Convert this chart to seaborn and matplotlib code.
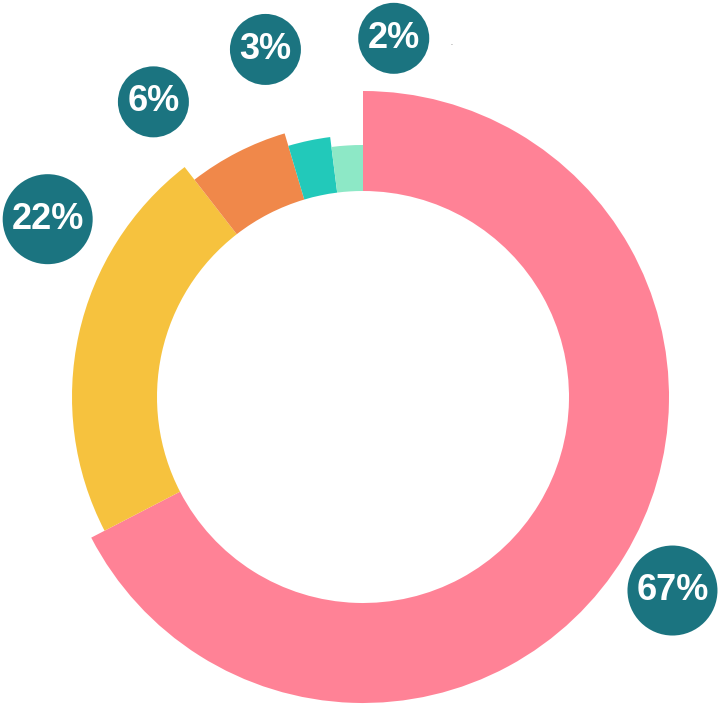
import numpy as np
import matplotlib
matplotlib.use("Agg")
import matplotlib.pyplot as plt
from matplotlib.patches import Wedge, Circle
import seaborn as sns

# données
categories = ["A", "B", "C", "D", "E"]
values = [67.4, 22.1, 5.9, 2.6, 2.0]
labels = ["67%", "22%", "6%", "3%", "2%"]

# style
colors = ["#FF8296", "#F6C23E", "#F0884A", "#22C9BA", "#8DE8C6"]
outer_r = [306, 291, 275, 262, 252]
inner_r = 206
label_shift = [-0.7, -17.0, 8.2, 3.8, -8.5]   # degrés, pour éviter les chevauchements
label_dist = [365, 362, 362, 361, 360]
badge_color = "#1B7480"

sns.set_theme(style="white")
plt.rcParams['font.family'] = ['Liberation Sans', 'DejaVu Sans']

W, H = 720, 704
fig = plt.figure(figsize=(W / 100, H / 100), dpi=100)
ax = fig.add_axes([0, 0, 1, 1])
ax.set_xlim(0, W)
ax.set_ylim(0, H)
ax.set_aspect("equal")
ax.axis("off")

cx, cy = 363, H - 397

total = sum(values)
start = 90.0
for i, v in enumerate(values):
    span = 360.0 * v / total
    end = start - span
    ax.add_patch(Wedge((cx, cy), outer_r[i], end, start,
                       width=outer_r[i] - inner_r, facecolor=colors[i],
                       edgecolor="none", antialiased=True))
    mid = (start + end) / 2 + label_shift[i]
    lx = cx + label_dist[i] * np.cos(np.radians(mid))
    ly = cy + label_dist[i] * np.sin(np.radians(mid))
    r_badge = 45 if len(labels[i]) > 2 else 35.5
    ax.add_patch(Circle((lx, ly), r_badge, facecolor=badge_color, edgecolor="none"))
    ax.text(lx, ly, labels[i], ha="center", va="center", color="white",
            fontsize=26, fontweight="bold")
    start = end

ax.text(451, H - 45, ".", ha="center", va="baseline", fontsize=5, color="#555555")

plt.savefig("out.png", dpi=100)
plt.close()
